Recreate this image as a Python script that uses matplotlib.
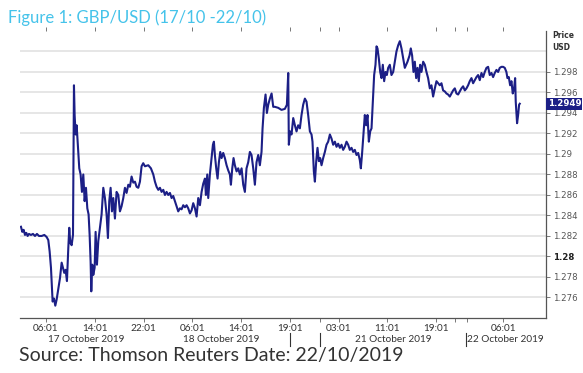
#!/usr/bin/env python3

import matplotlib
matplotlib.use("Agg")
import matplotlib.pyplot as plt
import matplotlib.transforms as mtransforms

# chart hours: hours since 17 Oct 00:00, weekend squeezed out (Sun 19:01 = 46)
hours = [
    1.90, 2.12, 2.34, 2.56, 2.78, 2.99, 3.21, 3.54, 3.87, 4.20, 4.52, 4.85, 5.29, 5.73, 6.11,
    6.38, 6.60, 6.82, 6.93, 7.09, 7.31, 7.53, 7.75, 8.02, 8.30, 8.57, 8.79, 9.00, 9.22, 9.44,
    9.66, 9.82, 9.99, 10.21, 10.43, 10.59, 10.70, 10.86, 11.03, 11.25, 11.46, 11.68, 11.90,
    12.12, 12.34, 12.56, 12.78, 12.99, 13.16, 13.32, 13.43, 13.59, 13.76, 13.98, 14.14, 14.36,
    14.58, 14.85, 15.12, 15.40, 15.67, 15.94, 16.16, 16.38, 16.60, 16.82, 17.04, 17.31, 17.58,
    17.86, 18.13, 18.40, 18.68, 18.95, 19.22, 19.50, 19.77, 20.04, 20.32, 20.59, 20.86, 21.14,
    21.41, 21.68, 21.95,
    22.23, 22.78, 23.21, 23.60, 23.87, 24.14, 24.42, 24.69, 24.96, 25.24, 25.51, 25.78, 26.05,
    26.33, 26.60, 26.87, 27.15, 27.42, 27.69, 27.97, 28.24, 28.51, 28.79, 29.06, 29.33, 29.61,
    29.88, 30.15, 30.43, 30.70, 30.97, 31.25, 31.52, 31.79, 32.07, 32.23, 32.45, 32.61, 32.88,
    33.16, 33.38, 33.54, 33.70, 33.92, 34.14, 34.36, 34.58, 34.80, 35.07, 35.34, 35.62, 35.89,
    36.16, 36.33, 36.55, 36.76, 36.98, 37.26, 37.53, 37.80, 38.08, 38.35, 38.62, 38.89, 39.17,
    39.44, 39.71, 39.99, 40.26, 40.53, 40.81, 41.08, 41.35, 41.52, 41.74, 42.01, 42.23, 42.45,
    42.72, 43.00, 43.27,
    43.54, 44.09, 44.63, 45.18, 45.51, 45.73, 45.83, 46.05, 46.27, 46.55, 46.82, 47.09, 47.36,
    47.64, 47.91, 48.18, 48.46, 48.73, 49.00, 49.28, 49.55, 49.71, 49.93, 50.10, 50.32, 50.53,
    50.75, 50.97, 51.19, 51.46, 51.74, 52.01, 52.28, 52.56, 52.83, 53.10, 53.38, 53.65, 53.92,
    54.20, 54.47, 54.74, 55.01, 55.29, 55.56, 55.83, 56.11, 56.38, 56.65, 56.93, 57.20, 57.47,
    57.64, 57.86, 58.07, 58.29, 58.51, 58.73, 58.95, 59.17, 59.39, 59.60, 59.82, 60.04, 60.21,
    60.37, 60.59, 60.81, 61.03, 61.24, 61.46, 61.68, 61.90, 62.12, 62.39, 62.66, 62.94, 63.21,
    63.48, 63.76, 64.03, 64.30, 64.58,
    64.85, 65.29, 65.62, 65.83, 66.05, 66.27, 66.49, 66.71, 66.93, 67.14, 67.36, 67.58, 67.86,
    68.13, 68.40, 68.67, 68.95, 69.22, 69.49, 69.77, 70.04, 70.31, 70.59, 70.86, 71.13, 71.41,
    71.68, 71.95, 72.23, 72.50, 72.77, 73.05, 73.32, 73.59, 73.87, 74.14, 74.41, 74.69, 74.96,
    75.23, 75.50, 75.78, 76.05, 76.32, 76.60, 76.87, 77.14, 77.42, 77.69, 77.96, 78.24, 78.51,
    78.78, 79.06, 79.33, 79.60, 79.88, 80.15, 80.42, 80.70, 80.97, 81.24, 81.51, 81.68, 81.90,
    82.12, 82.34, 82.55, 82.77, 82.94, 83.04, 83.15, 83.26, 83.43, 83.59, 83.70,
]

gbpusd = [
    1.2829, 1.2824, 1.2826, 1.2821, 1.2823, 1.2820, 1.2822, 1.2821, 1.2822, 1.2820, 1.2822, 1.2820, 1.2820, 1.2821, 1.2819,
    1.2816, 1.2805, 1.2789, 1.2776, 1.2756, 1.2759, 1.2752, 1.2758, 1.2768, 1.2779, 1.2794, 1.2789, 1.2784, 1.2787, 1.2776,
    1.2808, 1.2828, 1.2813, 1.2811, 1.2821, 1.2967, 1.2938, 1.2919, 1.2928, 1.2906, 1.2886, 1.2880, 1.2863,
    1.2880, 1.2854, 1.2867, 1.2847, 1.2841, 1.2821, 1.2795, 1.2766, 1.2792, 1.2782, 1.2789, 1.2824, 1.2792,
    1.2815, 1.2828, 1.2841, 1.2867, 1.2857, 1.2841, 1.2818, 1.2854, 1.2867, 1.2844, 1.2857, 1.2837, 1.2863,
    1.2860, 1.2844, 1.2849, 1.2857, 1.2867, 1.2862, 1.2870, 1.2868, 1.2878, 1.2872, 1.2873, 1.2868, 1.2867,
    1.2873, 1.2888, 1.2891,
    1.2888, 1.2889, 1.2886, 1.2880, 1.2873, 1.2868, 1.2865, 1.2867, 1.2863, 1.2865, 1.2860, 1.2863, 1.2860,
    1.2862, 1.2857, 1.2859, 1.2854, 1.2849, 1.2844, 1.2847, 1.2846, 1.2850, 1.2848, 1.2850, 1.2847, 1.2842,
    1.2845, 1.2852, 1.2847, 1.2839, 1.2857, 1.2850, 1.2863, 1.2871, 1.2876, 1.2860, 1.2880, 1.2857, 1.2880,
    1.2896, 1.2909, 1.2912, 1.2899, 1.2886, 1.2876, 1.2892, 1.2902, 1.2896, 1.2901, 1.2896, 1.2889, 1.2884,
    1.2880, 1.2870, 1.2886, 1.2896, 1.2889, 1.2883, 1.2886, 1.2880, 1.2886, 1.2870, 1.2863, 1.2886, 1.2892,
    1.2902, 1.2899, 1.2886, 1.2870, 1.2892, 1.2899, 1.2889, 1.2902, 1.2925, 1.2945, 1.2958, 1.2940, 1.2948,
    1.2954, 1.2959, 1.2946,
    1.2946, 1.2945, 1.2943, 1.2944, 1.2948, 1.2979, 1.2909, 1.2922, 1.2919, 1.2935, 1.2928, 1.2922, 1.2928,
    1.2925, 1.2938, 1.2948, 1.2954, 1.2951, 1.2938, 1.2922, 1.2919, 1.2912, 1.2883, 1.2873, 1.2893, 1.2906,
    1.2893, 1.2896, 1.2889, 1.2896, 1.2902, 1.2909, 1.2912, 1.2919, 1.2915, 1.2909, 1.2912, 1.2907, 1.2910,
    1.2906, 1.2909, 1.2904, 1.2907, 1.2912, 1.2909, 1.2904, 1.2906, 1.2902, 1.2904, 1.2899, 1.2901, 1.2894,
    1.2886, 1.2902, 1.2919, 1.2938, 1.2928, 1.2938, 1.2912, 1.2922, 1.2925, 1.2951, 1.2977, 1.2987, 1.3005,
    1.3003, 1.2993, 1.2980, 1.2974, 1.2987, 1.2971, 1.2980, 1.2977, 1.2984, 1.2987, 1.2977, 1.2980, 1.2990,
    1.3000, 1.3006, 1.3010, 1.3003, 1.2993,
    1.2984, 1.2990, 1.2996, 1.3003, 1.2996, 1.2980, 1.2990, 1.2974, 1.2984, 1.2971, 1.2987, 1.2980, 1.2990,
    1.2987, 1.2980, 1.2974, 1.2964, 1.2967, 1.2956, 1.2964, 1.2971, 1.2969, 1.2967, 1.2969, 1.2962, 1.2961,
    1.2959, 1.2958, 1.2956, 1.2959, 1.2962, 1.2964, 1.2959, 1.2958, 1.2961, 1.2964, 1.2966, 1.2962, 1.2964,
    1.2967, 1.2971, 1.2974, 1.2969, 1.2972, 1.2975, 1.2977, 1.2972, 1.2979, 1.2975, 1.2980, 1.2984, 1.2985,
    1.2977, 1.2979, 1.2975, 1.2979, 1.2982, 1.2980, 1.2984, 1.2985, 1.2985, 1.2984, 1.2980, 1.2974, 1.2975,
    1.2967, 1.2971, 1.2959, 1.2964, 1.2974, 1.2951, 1.2941, 1.2930, 1.2938, 1.2948, 1.2949,
]

# x ticks (chart hours) and their labels, blanks are day breaks
tick_hours = [6, 14, 22, 30, 38, 46, 51, 54, 62, 70, 73, 75, 81]
tick_labels = ["06:01", "14:01", "22:01", "06:01", "14:01", "19:01", "",
               "03:01", "11:01", "19:01", "", "", "06:01"]

day_labels = ["17 October 2019", "18 October 2019", "21 October 2019", "22 October 2019"]
day_centres = [12.6, 34.7, 63.0, 81.4]
day_breaks = [46.0, 50.9, 74.9]

price_ticks = [1.276, 1.278, 1.28, 1.282, 1.284, 1.286, 1.288, 1.29,
               1.292, 1.294, 1.296, 1.298]
price_labels = ["1.276", "1.278", "1.28", "1.282", "1.284", "1.286", "1.288", "1.29",
                "1.292", "1.294", "1.296", "1.298"]
grid_levels = price_ticks + [1.300]

fig = plt.figure(figsize=(5.83, 3.73), dpi=100)
ax = fig.add_axes([0.0343, 0.1475, 0.9022, 0.7695])

line_col = "#1c1f86"
for g in grid_levels:
    ax.axhline(g, color="#e4e4e4", lw=1.3, zorder=1)

ax.plot(hours, gbpusd, color=line_col, lw=1.5, zorder=3)

ax.set_xlim(1.74, 88.0)
ax.set_ylim(1.2740, 1.3020)

# spines: only bottom and right
ax.spines["left"].set_visible(False)
ax.spines["top"].set_visible(False)
ax.spines["bottom"].set_color("#555555")
ax.spines["right"].set_color("#555555")
ax.spines["bottom"].set_linewidth(0.9)
ax.spines["right"].set_linewidth(0.9)

ax.yaxis.tick_right()
ax.set_yticks(price_ticks)
ax.set_yticklabels(price_labels)
ax.tick_params(axis="y", length=3, width=0.7, color="#777777", labelsize=6.2,
               labelcolor="#555555", pad=2)
for lab in ax.get_yticklabels():
    lab.set_family("DejaVu Sans")
    if lab.get_text() == "1.28":
        lab.set_fontweight("bold")
        lab.set_color("#222222")

ax.set_xticks(tick_hours)
ax.set_xticklabels(tick_labels)
ax.tick_params(axis="x", length=3, width=0.7, color="#777777", labelsize=7.2,
               labelcolor="#333333", pad=1.5, top=True)
for lab in ax.get_xticklabels():
    lab.set_family("Lato")

# day names under the time labels
trans = mtransforms.blended_transform_factory(ax.transData, ax.transAxes)
for name, c in zip(day_labels, day_centres):
    ax.text(c, -0.074, name, transform=trans, ha="center", va="center",
            fontsize=7.2, color="#333333", family="Lato")
for b in day_breaks:
    ax.plot([b, b], [-0.052, -0.098], transform=trans, color="#333333",
            lw=0.8, clip_on=False)

# last price box on the right axis
ytrans = mtransforms.blended_transform_factory(ax.transAxes, ax.transData)
ax.text(1.003, gbpusd[-1], "1.2949", transform=ytrans, ha="left", va="center",
        fontsize=6.2, color="white", fontweight="bold", family="DejaVu Sans",
        bbox=dict(boxstyle="square,pad=0.15", fc=line_col, ec="none"))

ax.text(1.012, 1.0, "Price\nUSD", transform=ax.transAxes, ha="left", va="top",
        fontsize=5.5, fontweight="bold", color="#333333", linespacing=1.5,
        family="DejaVu Sans")

# title and source
fig.text(0.014, 0.952, "Figure 1: GBP/USD (17/10 -22/10)", fontsize=12,
         color="#45c3ea", family="Lato", ha="left", va="center")
fig.text(0.033, 0.046, "Source: Thomson Reuters Date: 22/10/2019", fontsize=14,
         color="#333333", family="Lato", ha="left", va="center")

fig.savefig("out.png", dpi=100)
